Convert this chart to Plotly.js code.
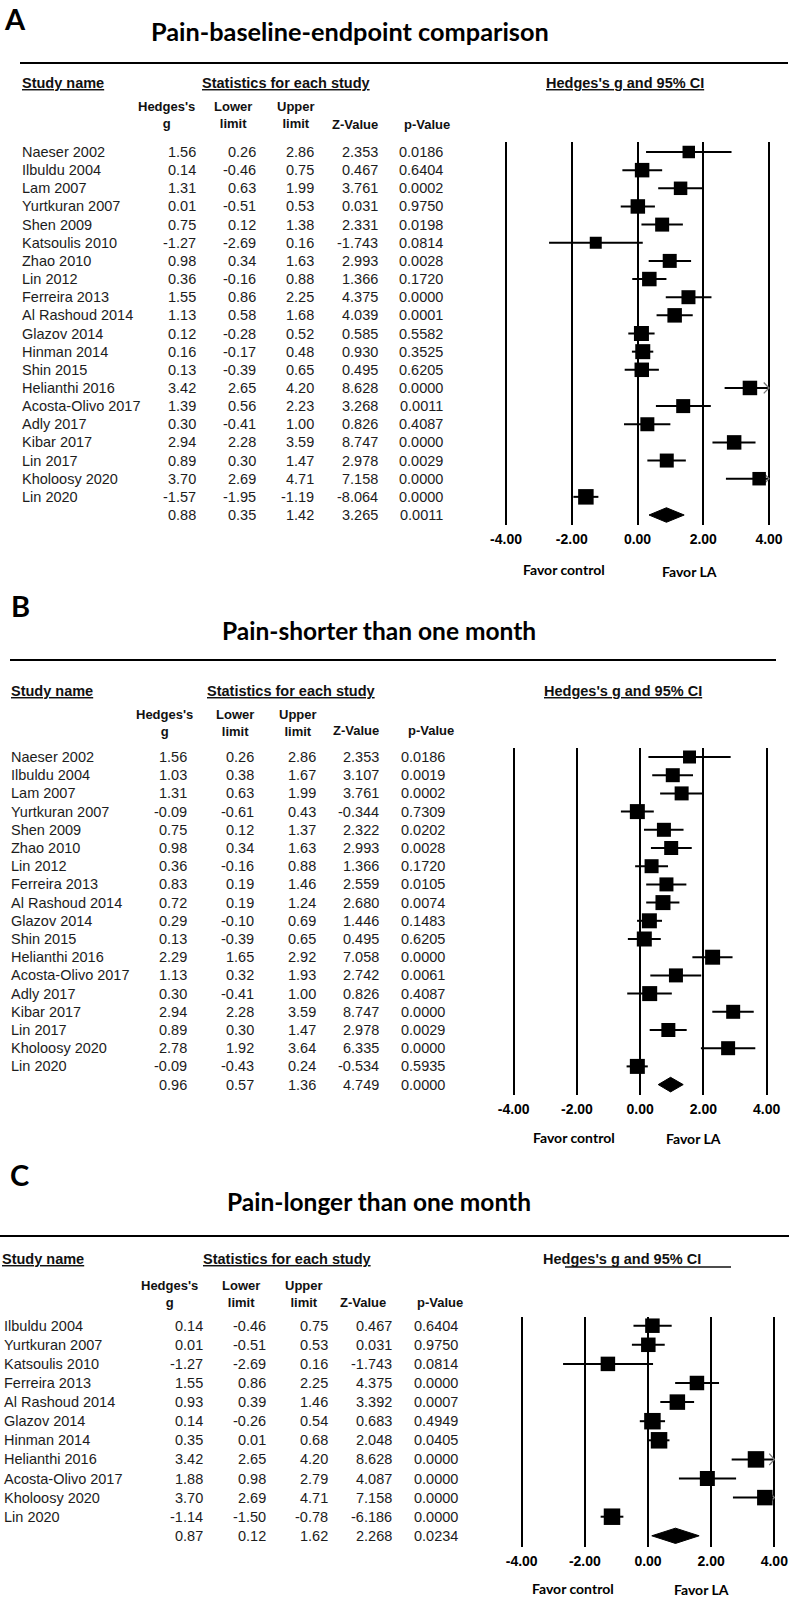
<!DOCTYPE html>
<html><head><meta charset="utf-8">
<script src="https://cdn.plot.ly/plotly-3.0.1.min.js"></script>
<style>html,body{margin:0;padding:0;background:#fff}#chart{width:789px;height:1600px}</style>
</head><body><div id="chart"></div>
<script>
// ---------- Panel A: Pain-baseline-endpoint comparison ----------
const studiesA = ['Naeser 2002','Ilbuldu 2004','Lam 2007','Yurtkuran 2007','Shen 2009','Katsoulis 2010','Zhao 2010','Lin 2012','Ferreira 2013','Al Rashoud 2014','Glazov 2014','Hinman 2014','Shin 2015','Helianthi 2016','Acosta-Olivo 2017','Adly 2017','Kibar 2017','Lin 2017','Kholoosy 2020','Lin 2020'];
const gA     = [1.56,0.14,1.31,0.01,0.75,-1.27,0.98,0.36,1.55,1.13,0.12,0.16,0.13,3.42,1.39,0.30,2.94,0.89,3.70,-1.57];
const lowerA = [0.26,-0.46,0.63,-0.51,0.12,-2.69,0.34,-0.16,0.86,0.58,-0.28,-0.17,-0.39,2.65,0.56,-0.41,2.28,0.30,2.69,-1.95];
const upperA = [2.86,0.75,1.99,0.53,1.38,0.16,1.63,0.88,2.25,1.68,0.52,0.48,0.65,4.20,2.23,1.00,3.59,1.47,4.71,-1.19];
const zA     = [2.353,0.467,3.761,0.031,2.331,-1.743,2.993,1.366,4.375,4.039,0.585,0.930,0.495,8.628,3.268,0.826,8.747,2.978,7.158,-8.064];
const pA     = [0.0186,0.6404,0.0002,0.9750,0.0198,0.0814,0.0028,0.1720,0.0000,0.0001,0.5582,0.3525,0.6205,0.0000,0.0011,0.4087,0.0000,0.0029,0.0000,0.0000];
const summaryA = [0.88,0.35,1.42,3.265,0.0011]; // g, lower, upper, z, p

// ---------- Panel B: Pain-shorter than one month ----------
const studiesB = ['Naeser 2002','Ilbuldu 2004','Lam 2007','Yurtkuran 2007','Shen 2009','Zhao 2010','Lin 2012','Ferreira 2013','Al Rashoud 2014','Glazov 2014','Shin 2015','Helianthi 2016','Acosta-Olivo 2017','Adly 2017','Kibar 2017','Lin 2017','Kholoosy 2020','Lin 2020'];
const gB     = [1.56,1.03,1.31,-0.09,0.75,0.98,0.36,0.83,0.72,0.29,0.13,2.29,1.13,0.30,2.94,0.89,2.78,-0.09];
const lowerB = [0.26,0.38,0.63,-0.61,0.12,0.34,-0.16,0.19,0.19,-0.10,-0.39,1.65,0.32,-0.41,2.28,0.30,1.92,-0.43];
const upperB = [2.86,1.67,1.99,0.43,1.37,1.63,0.88,1.46,1.24,0.69,0.65,2.92,1.93,1.00,3.59,1.47,3.64,0.24];
const zB     = [2.353,3.107,3.761,-0.344,2.322,2.993,1.366,2.559,2.680,1.446,0.495,7.058,2.742,0.826,8.747,2.978,6.335,-0.534];
const pB     = [0.0186,0.0019,0.0002,0.7309,0.0202,0.0028,0.1720,0.0105,0.0074,0.1483,0.6205,0.0000,0.0061,0.4087,0.0000,0.0029,0.0000,0.5935];
const summaryB = [0.96,0.57,1.36,4.749,0.0000];

// ---------- Panel C: Pain-longer than one month ----------
const studiesC = ['Ilbuldu 2004','Yurtkuran 2007','Katsoulis 2010','Ferreira 2013','Al Rashoud 2014','Glazov 2014','Hinman 2014','Helianthi 2016','Acosta-Olivo 2017','Kholoosy 2020','Lin 2020'];
const gC     = [0.14,0.01,-1.27,1.55,0.93,0.14,0.35,3.42,1.88,3.70,-1.14];
const lowerC = [-0.46,-0.51,-2.69,0.86,0.39,-0.26,0.01,2.65,0.98,2.69,-1.50];
const upperC = [0.75,0.53,0.16,2.25,1.46,0.54,0.68,4.20,2.79,4.71,-0.78];
const zC     = [0.467,0.031,-1.743,4.375,3.392,0.683,2.048,8.628,4.087,7.158,-6.186];
const pC     = [0.6404,0.9750,0.0814,0.0000,0.0007,0.4949,0.0405,0.0000,0.0000,0.0000,0.0000];
const summaryC = [0.87,0.12,1.62,2.268,0.0234];

// ---------- Axis ticks ----------
const tickVals = [-4,-2,0,2,4];
const tickText = ['-4.00','-2.00','0.00','2.00','4.00'];
const axisLimit = 4;

// ---------- Styles / layout geometry (pixels) ----------
const sizesA = [12.5,14.5,13.5,14.5,14,12,14,14.5,14,14.5,15,15,14.5,14.5,14,14,14.5,14,13.5,15.5];
const sizesB = [13,14,14,15,14,14,14,14,15,15,15,15,14,15,14,14,14,15];
const sizesC = [14.5,14.5,14.5,14.5,15.5,16.5,16.5,16.5,15,15.5,16.5];

const W = 789, H = 1600;
const FT = 'Liberation Sans, Arial, sans-serif';
const FC = 'Lato, Carlito, Calibri, sans-serif';

const panels = [
  { studies: studiesA, g: gA, lo: lowerA, up: upperA, z: zA, p: pA, sum: summaryA, sizes: sizesA,
    xName:'xaxis', yName:'yaxis', xRef:'x', yRef:'y',
    letter:{text:'A', x:2, y:19},
    title:{text:'Pain-baseline-endpoint comparison', x:350, y:31, size:25.3},
    rule:{x0:20, x1:788, y:63},
    head:{y:83, studyX:20, statsCX:286, hedgesCX:625, offsetUnderline:null},
    colHead:{y1:107, y2:124, right:[197,254,317,380,452]},
    nameX:20, colRight:[198,258,316,380,445],
    rows:{top:152, step:18.15}, plot:{top:142, bottom:525, xm4:506, xp4:769},
    favor:{y:570, controlX:564, laX:689} },
  { studies: studiesB, g: gB, lo: lowerB, up: upperB, z: zB, p: pB, sum: summaryB, sizes: sizesB,
    xName:'xaxis2', yName:'yaxis2', xRef:'x2', yRef:'y2',
    letter:{text:'B', x:9, y:605},
    title:{text:'Pain-shorter than one month', x:379, y:630, size:24.5},
    rule:{x0:10, x1:776, y:660},
    head:{y:691, studyX:9, statsCX:291, hedgesCX:623, offsetUnderline:null},
    colHead:{y1:714, y2:731, right:[195,256,319,381,456]},
    nameX:9, colRight:[189,256,318,381,447],
    rows:{top:757, step:18.2}, plot:{top:748, bottom:1095, xm4:513.7, xp4:766.7},
    favor:{y:1137, controlX:574, laX:693} },
  { studies: studiesC, g: gC, lo: lowerC, up: upperC, z: zC, p: pC, sum: summaryC, sizes: sizesC,
    xName:'xaxis3', yName:'yaxis3', xRef:'x3', yRef:'y3',
    letter:{text:'C', x:8, y:1174},
    title:{text:'Pain-longer than one month', x:379, y:1201, size:24.5},
    rule:{x0:0, x1:789, y:1236},
    head:{y:1259, studyX:0, statsCX:287, hedgesCX:622, offsetUnderline:{x0:565, x1:731, y:1267}},
    colHead:{y1:1285, y2:1302, right:[200,262,325,388,465]},
    nameX:2, colRight:[205,268,330,394,460],
    rows:{top:1325.7, step:19.1}, plot:{top:1317, bottom:1547, xm4:521.7, xp4:774.3},
    favor:{y:1588, controlX:573, laX:701} }
];

const traces = [];
const annotations = [];
const shapes = [];
const layout = {
  width: W, height: H,
  margin: {l:0, r:0, t:0, b:0, pad:0},
  paper_bgcolor: '#fff', plot_bgcolor: 'rgba(0,0,0,0)',
  showlegend: false,
  annotations, shapes
};

const PX = v => v / W;
const PY = v => 1 - v / H;
const tableFont = {family: FT, size: 14.5, color: '#1c1c1c'};
const headFont = {family: FT, size: 14.5, color: '#111'};
const colHeadFont = {family: FT, size: 13, color: '#111'};

function paperAnn(text, x, y, xanchor, font, extra) {
  annotations.push(Object.assign({text, x: PX(x), y: PY(y), xref:'paper', yref:'paper',
    xanchor, yanchor:'middle', showarrow:false, font}, extra || {}));
}

panels.forEach(P => {
  const n = P.studies.length;
  const sumRow = n + 1;
  const k = (P.plot.xp4 - P.plot.xm4) / 8;         // px per unit
  const pad = 0.4;
  const dom0 = (P.plot.xm4 - pad * k) / W, dom1 = (P.plot.xp4 + pad * k) / W;
  const yTop = 1 - (P.rows.top - P.plot.top) / P.rows.step;
  const yBot = sumRow + (P.plot.bottom - (P.rows.top + (sumRow - 1) * P.rows.step)) / P.rows.step;

  layout[P.xName] = {
    domain: [dom0, dom1], range: [-4 - pad, 4 + pad], anchor: P.yRef,
    tickmode: 'array', tickvals: tickVals, ticktext: tickText,
    showgrid: true, gridcolor: '#000', gridwidth: 2, zeroline: false, showline: false,
    ticks: 'outside', ticklen: 1, tickcolor: 'rgba(0,0,0,0)',
    tickfont: {family: FT, size: 14, color: '#000', weight: 'bold'}, fixedrange: true
  };
  layout[P.yName] = {
    domain: [PY(P.plot.bottom), PY(P.plot.top)], range: [yBot, yTop], anchor: P.xRef,
    showgrid: false, zeroline: false, showline: false, showticklabels: false, ticks: '', fixedrange: true
  };

  // CI lines (clipped to axis limit)
  const lx = [], ly = [];
  P.lo.forEach((lo, i) => { lx.push(lo, Math.min(P.up[i], axisLimit), null); ly.push(i + 1, i + 1, null); });
  traces.push({type:'scatter', mode:'lines', x: lx, y: ly, xaxis: P.xRef, yaxis: P.yRef,
    line:{color:'#000', width:2}, hoverinfo:'skip', cliponaxis:false});

  // arrows for intervals beyond the axis limit
  const ax = [], ay = [];
  P.up.forEach((up, i) => {
    if (up > axisLimit) {
      const r = i + 1;
      ax.push(axisLimit - 0.16, axisLimit, axisLimit - 0.16, null);
      ay.push(r - 0.3, r, r + 0.3, null);
    }
  });
  if (ax.length) traces.push({type:'scatter', mode:'lines', x: ax, y: ay, xaxis: P.xRef, yaxis: P.yRef,
    line:{color:'#777', width:1.3}, hoverinfo:'skip', cliponaxis:false});

  // study squares
  traces.push({type:'scatter', mode:'markers', x: P.g, y: P.g.map((_, i) => i + 1),
    xaxis: P.xRef, yaxis: P.yRef, cliponaxis:false,
    marker:{symbol:'square', color:'#000', opacity:1, size: P.sizes, line:{width:0}}});

  // summary diamond
  const [sg, slo, sup] = P.sum;
  const h = 0.4;
  traces.push({type:'scatter', mode:'lines', fill:'toself', fillcolor:'#000',
    x:[slo, sg, sup, sg, slo], y:[sumRow, sumRow - h, sumRow, sumRow + h, sumRow],
    xaxis: P.xRef, yaxis: P.yRef, line:{color:'#000', width:1}, cliponaxis:false, hoverinfo:'skip'});

  // letter + title
  paperAnn('<b>' + P.letter.text + '</b>', P.letter.x, P.letter.y, 'left', {family: FC, size: 29, color:'#000'});
  paperAnn('<b>' + P.title.text + '</b>', P.title.x, P.title.y, 'center', {family: FC, size: P.title.size, color:'#000'});

  // horizontal rule
  shapes.push({type:'line', xref:'paper', yref:'paper', x0: PX(P.rule.x0), x1: PX(P.rule.x1),
    y0: PY(P.rule.y), y1: PY(P.rule.y), line:{color:'#000', width:2}});

  // section headers
  paperAnn('<b><u>Study name</u></b>', P.head.studyX, P.head.y, 'left', headFont);
  paperAnn('<b><u>Statistics for each study</u></b>', P.head.statsCX, P.head.y, 'center', headFont);
  if (P.head.offsetUnderline) {
    paperAnn("<b>Hedges's g and 95% CI</b>", P.head.hedgesCX, P.head.y, 'center', headFont);
    const u = P.head.offsetUnderline;
    shapes.push({type:'line', xref:'paper', yref:'paper', x0: PX(u.x0), x1: PX(u.x1),
      y0: PY(u.y), y1: PY(u.y), line:{color:'#111', width:1.3}});
  } else {
    paperAnn("<b><u>Hedges's g and 95% CI</u></b>", P.head.hedgesCX, P.head.y, 'center', headFont);
  }

  // column headers
  const ch = P.colHead;
  const mid = (ch.y1 + ch.y2) / 2;
  paperAnn("<b>Hedges's<br>g</b>", ch.right[0], mid, 'right', colHeadFont, {align:'center'});
  paperAnn('<b>Lower<br>limit</b>', ch.right[1], mid, 'right', colHeadFont, {align:'center'});
  paperAnn('<b>Upper<br>limit</b>', ch.right[2], mid, 'right', colHeadFont, {align:'center'});
  paperAnn('<b>Z-Value</b>', ch.right[3], ch.y2, 'right', colHeadFont);
  paperAnn('<b>p-Value</b>', ch.right[4], ch.y2, 'right', colHeadFont);

  // table rows
  const rowAnn = (text, x, row, xanchor) => annotations.push({text, x: PX(x), y: row, xref:'paper', yref: P.yRef,
    xanchor, yanchor:'middle', showarrow:false, font: tableFont});
  P.studies.forEach((s, i) => {
    const r = i + 1;
    rowAnn(s, P.nameX, r, 'left');
    rowAnn(P.g[i].toFixed(2), P.colRight[0], r, 'right');
    rowAnn(P.lo[i].toFixed(2), P.colRight[1], r, 'right');
    rowAnn(P.up[i].toFixed(2), P.colRight[2], r, 'right');
    rowAnn(P.z[i].toFixed(3), P.colRight[3], r, 'right');
    rowAnn(P.p[i].toFixed(4), P.colRight[4], r, 'right');
  });
  rowAnn(P.sum[0].toFixed(2), P.colRight[0], sumRow, 'right');
  rowAnn(P.sum[1].toFixed(2), P.colRight[1], sumRow, 'right');
  rowAnn(P.sum[2].toFixed(2), P.colRight[2], sumRow, 'right');
  rowAnn(P.sum[3].toFixed(3), P.colRight[3], sumRow, 'right');
  rowAnn(P.sum[4].toFixed(4), P.colRight[4], sumRow, 'right');

  // favour labels
  const favFont = {family: FC, size: 14, color:'#000'};
  paperAnn('<b>Favor control</b>', P.favor.controlX, P.favor.y, 'center', favFont);
  paperAnn('<b>Favor LA</b>', P.favor.laX, P.favor.y + 1, 'center', favFont);
});

Plotly.newPlot('chart', traces, layout, {staticPlot: true, displayModeBar: false});
</script>
</body></html>
